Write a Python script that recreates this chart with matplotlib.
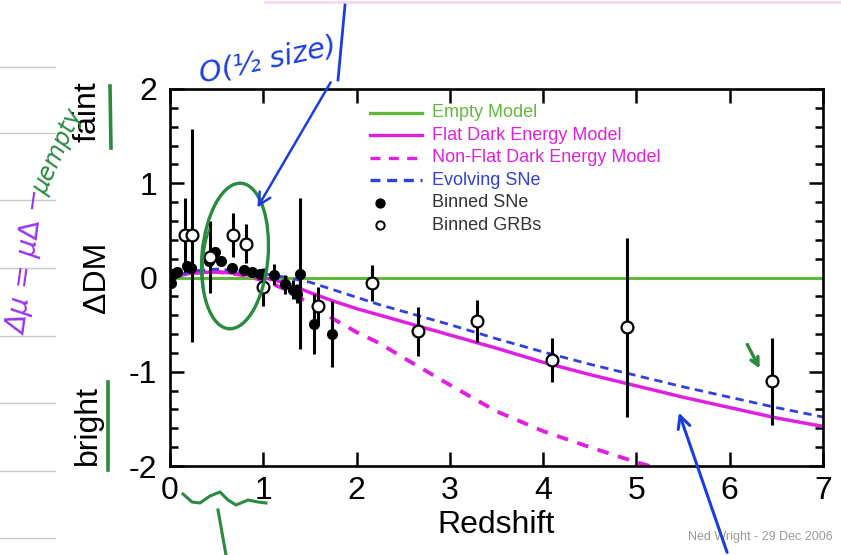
import matplotlib.pyplot as plt
from matplotlib.patches import Ellipse, Arc

plt.rcParams['font.family'] = ['Liberation Sans', 'DejaVu Sans']
plt.rcParams['axes.unicode_minus'] = False

# binned supernovae (filled) and binned GRBs (open)
sne_z = [0.01, 0.03, 0.07, 0.18, 0.23, 0.42, 0.48, 0.55, 0.66, 0.79, 0.88, 0.96, 1.12, 1.23, 1.32, 1.36, 1.39, 1.54, 1.74]
sne_dm = [-0.06, 0.04, 0.06, 0.12, 0.10, 0.17, 0.27, 0.17, 0.10, 0.08, 0.06, 0.04, 0.03, -0.07, -0.13, -0.17, 0.04, -0.49, -0.60]
sne_err = [0.05, 0.04, 0.04, 0.05, 0.04, 0.04, 0.05, 0.04, 0.03, 0.03, 0.03, 0.04, 0.11, 0.10, 0.10, 0.10, 0.80, 0.32, 0.35]

grb_z = [0.16, 0.24, 0.43, 0.67, 0.82, 1.00, 1.59, 2.17, 2.66, 3.29, 4.10, 4.90, 6.45]
grb_dm = [0.45, 0.45, 0.22, 0.45, 0.36, -0.10, -0.30, -0.055, -0.57, -0.46, -0.875, -0.53, -1.10]
grb_err = [0.39, 1.13, 0.38, 0.23, 0.21, 0.20, 0.20, 0.19, 0.26, 0.22, 0.235, 0.95, 0.46]

# model curves, distance modulus relative to the empty universe
model_z = [0, 0.25, 0.5, 0.75, 1.0, 1.25, 1.5, 1.75, 2.0, 2.25, 2.5, 3.0, 3.5, 4.0, 4.5, 5.0, 5.5, 6.0, 6.5, 7.0]
empty_dm = [0.0] * len(model_z)
flat_dm = [0, 0.05, 0.06, 0.04, 0.0, -0.06, -0.16, -0.25, -0.33, -0.40, -0.47, -0.61, -0.75, -0.90, -1.03, -1.15, -1.27, -1.38, -1.49, -1.58]
nonflat_dm = [0, 0.05, 0.06, 0.03, -0.03, -0.13, -0.28, -0.44, -0.58, -0.70, -0.85, -1.14, -1.42, -1.63, -1.80, -1.96, -2.10, -2.22, -2.32, -2.40]
evol_dm = [0, 0.07, 0.09, 0.07, 0.04, 0.0, -0.05, -0.13, -0.21, -0.29, -0.36, -0.50, -0.65, -0.79, -0.92, -1.04, -1.16, -1.27, -1.38, -1.48]

green = '#62b83a'
magenta = '#e020e0'
blue = '#3040e0'
gray = '#333333'

fig = plt.figure(figsize=(8.41, 5.55), dpi=100)
ax = fig.add_axes([170 / 841, 89 / 555, 653 / 841, 377 / 555])

ax.plot(model_z, empty_dm, color=green, lw=2.2, zorder=2)
ax.plot(model_z, flat_dm, color=magenta, lw=2.5, zorder=2)
ax.plot(model_z, nonflat_dm, color=magenta, lw=2.8, ls=(0, (3, 2.5)), zorder=2)
ax.plot(model_z, evol_dm, color=blue, lw=2.0, ls=(0, (3, 2)), zorder=2)

ax.errorbar(sne_z, sne_dm, yerr=sne_err, fmt='o', color='black', ms=7, elinewidth=2.2, capsize=0, zorder=3)
ax.errorbar(grb_z, grb_dm, yerr=grb_err, fmt='o', color='black', mfc='white', mec='black', mew=1.6,
            ms=8.5, elinewidth=2.2, capsize=0, zorder=4)

ax.set_xlim(0, 7)
ax.set_ylim(-2, 2)
ax.set_xticks(range(0, 8))
ax.set_yticks([-2, -1, 0, 1, 2])
ax.set_yticks([-1.8, -1.6, -1.4, -1.2, -0.8, -0.6, -0.4, -0.2, 0.2, 0.4, 0.6, 0.8, 1.2, 1.4, 1.6, 1.8], minor=True)
ax.tick_params(which='major', direction='in', length=10, width=1.8, labelsize=23, top=True, right=True, pad=7)
ax.tick_params(which='minor', direction='in', length=5.5, width=1.8, right=True)
ax.tick_params(axis='y', pad=9)
for s in ax.spines.values():
    s.set_linewidth(1.9)
ax.set_xlabel('Redshift', fontsize=23, labelpad=3)
ax.set_ylabel('\u0394DM', fontsize=23, labelpad=12)

# legend drawn row by row
rows = [('Empty Model', green, '-', None),
        ('Flat Dark Energy Model', magenta, '-', None),
        ('Non-Flat Dark Energy Model', magenta, (0, (3, 2.5)), None),
        ('Evolving SNe', blue, (0, (3, 2)), None),
        ('Binned SNe', gray, None, 'black'),
        ('Binned GRBs', gray, None, 'white')]
for i, (name, col, ls, face) in enumerate(rows):
    yy = 0.937 - 0.0598 * i
    if ls is not None:
        ax.plot([0.306, 0.386], [yy, yy], transform=ax.transAxes, color=col, ls=ls, lw=2.4)
    else:
        ax.plot([0.322], [yy], 'o', transform=ax.transAxes, mfc=face, mec='black', mew=1.4, ms=6)
    ax.text(0.401, yy, name, transform=ax.transAxes, color=col, fontsize=13, va='center')

fig.text(88 / 841, 1 - 112 / 555, 'faint', rotation=90, fontsize=23, ha='center', va='center')
fig.text(88 / 841, 1 - 425 / 555, 'bright', rotation=90, fontsize=23, ha='center', va='center')
fig.text(688 / 841, 1 - 537 / 555, 'Ned Wright - 29 Dec 2006', fontsize=9, color='#999999', va='center')

# handwritten notes on top of the slide
note = fig.add_axes([0, 0, 1, 1], zorder=10)
note.set_xlim(0, 841)
note.set_ylim(555, 0)
note.axis('off')
note.patch.set_alpha(0)

for yl in [67, 133, 200, 268, 336, 403, 471, 538]:
    note.plot([0, 55], [yl, yl], color='#c8c8c8', lw=1)
note.plot([265, 841], [1.5, 1.5], color='#f6d8f2', lw=2)

hand_green = '#2a8a3e'
hand_blue = '#1a3de0'
note.add_patch(Ellipse((235, 256), 66, 146, angle=5, fill=False, ec=hand_green, lw=2.4))
note.add_patch(Arc((233, 262), 60, 130, angle=5, theta1=130, theta2=230, ec=hand_green, lw=1.6))
note.annotate('', xy=(256, 210), xytext=(332, 80),
              arrowprops=dict(arrowstyle='->', color=hand_blue, lw=1.8, mutation_scale=22))
note.plot([345, 338], [5, 80], color=hand_blue, lw=2)
note.annotate('', xy=(678, 410), xytext=(728, 555),
              arrowprops=dict(arrowstyle='->', color=hand_blue, lw=2.2, mutation_scale=22))
note.annotate('', xy=(761, 371), xytext=(746, 342),
              arrowprops=dict(arrowstyle='->', color=hand_green, lw=2.4, mutation_scale=14))
note.plot([110, 111], [86, 148], color=hand_green, lw=2.6)
note.plot([108, 108], [382, 470], color=hand_green, lw=2.6)
note.plot([183, 192, 200, 210, 220, 228, 236, 248, 258, 266],
          [494, 502, 503, 496, 492, 500, 505, 500, 502, 503], color=hand_green, lw=2.2)
note.plot([218, 226], [510, 555], color=hand_green, lw=2.2)
note.text(268, 60, 'O(\u00bd size)', color=hand_blue, fontsize=21, rotation=12, ha='center', va='center',
          fontstyle='italic', family=['DejaVu Sans'])
note.text(28, 262, '\u0394\u03bc = \u03bc\u2206 \u2212', color='#9933ee', fontsize=20, rotation=82,
          ha='center', va='center', fontstyle='italic', family=['DejaVu Sans'])
note.text(58, 152, '\u03bcempty', color=hand_green, fontsize=17, rotation=66,
          ha='center', va='center', fontstyle='italic', family=['DejaVu Sans'])

plt.savefig('out.png', dpi=100)
